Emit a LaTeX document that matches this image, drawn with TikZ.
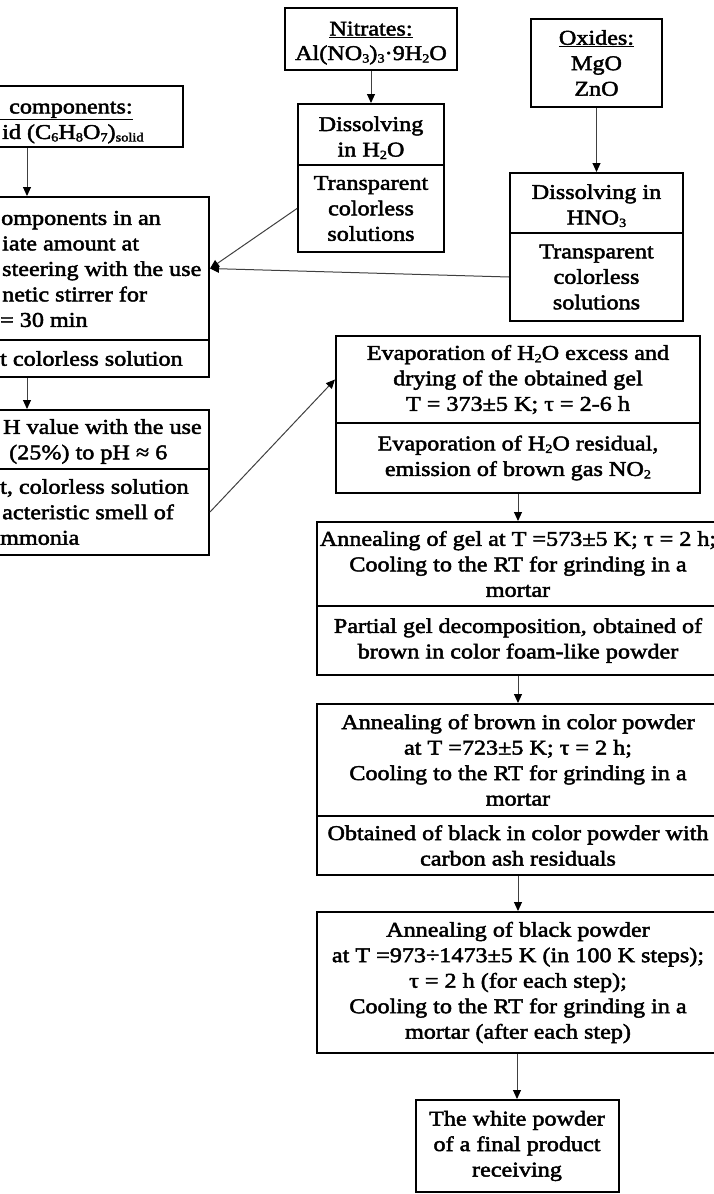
\documentclass[tikz,border=0pt]{standalone}
\usepackage{fontspec}
\setmainfont{Liberation Serif}[FakeStretch=1.15,FakeBold=2.2]
\usetikzlibrary{arrows.meta,calc}
\newcommand\sbs[1]{\raisebox{-2.5pt}{\fontsize{12.5}{12.5}\selectfont #1}}
\tikzset{
  txtfont/.style={font=\fontsize{21}{25.5}\selectfont},
  box/.style={draw=black, line width=2pt, align=center, inner sep=0pt, txtfont},
  cutbox/.style={draw=black, line width=2pt, inner sep=0pt},
  lefttxt/.style={align=left, inner sep=0pt, anchor=west, txtfont},
  arr/.style={draw=black!75, line width=1pt, -{Triangle[length=9pt,width=8pt,fill=black,color=black]}},
}
\begin{document}
\begin{tikzpicture}[x=1pt,y=-1pt]
\useasboundingbox (0,0) rectangle (714,1194);
\clip (0,0) rectangle (714,1194);
\fill[white] (0,0) rectangle (714,1194);

% top sources
\node[box, minimum width=172pt, minimum height=62pt] (nit) at (371,39)
  {\rule{0pt}{22pt}\underline{Nitrates:}\\[-1pt]Al(NO\sbs{3})\sbs{3}·9H\sbs{2}O};
\node[box, minimum width=131pt, minimum height=88pt] (ox) at (596.5,63)
  {\underline{Oxides:}\\MgO\\ZnO};

\node[box, minimum width=146pt, minimum height=61pt] (h2oa) at (371,134.5)
  {\rule{0pt}{21pt}Dissolving\\in H\sbs{2}O};
\node[box, minimum width=146pt, minimum height=87pt] (h2ob) at (371,208.5)
  {Transparent\\colorless\\solutions};
\node[box, minimum width=173pt, minimum height=60pt] (hnoa) at (596.5,203)
  {\rule{0pt}{20pt}Dissolving in\\HNO\sbs{3}};
\node[box, minimum width=173pt, minimum height=88pt] (hnob) at (596.5,277)
  {Transparent\\colorless\\solutions};

% left column (cut at the left edge)
\node[cutbox, minimum width=243pt, minimum height=61pt] (ltop) at (61.5,116.5) {};
\node[lefttxt] (ltopt) at (0,122.5)
  {\underline{\hspace*{9pt}components:}\\\hspace*{2pt}id (C\sbs{6}H\sbs{8}O\sbs{7})\sbs{solid}};

\node[cutbox, minimum width=269pt, minimum height=143pt] (biga) at (74.5,268.5) {};
\node[lefttxt] (bigat) at (0,269)
  {\hspace*{1pt}omponents in an\\\hspace*{2pt}iate amount at\\\hspace*{2pt}steering with the use\\\hspace*{2pt}netic stirrer for\\= 30 min};
\node[cutbox, minimum width=269pt, minimum height=37pt] (bigb) at (74.5,358.5) {};
\node[lefttxt] (bigbt) at (0,358.5) {t colorless solution};

\node[cutbox, minimum width=269pt, minimum height=59pt] (pha) at (74.5,439.5) {};
\node[lefttxt] (phat) at (0,441.5)
  {\hspace*{3pt}H value with the use\\\hspace*{9pt}(25\%) to pH ≈ 6};
\node[cutbox, minimum width=269pt, minimum height=86pt] (phb) at (74.5,512) {};
\node[lefttxt] (phbt) at (0,512)
  {t, colorless solution\\\hspace*{2pt}acteristic smell of\\mmonia};

% right column
\node[box, minimum width=364pt, minimum height=87pt] (evapa) at (518,379.5)
  {Evaporation of H\sbs{2}O excess and\\drying of the obtained gel\\T = 373±5 K; τ = 2-6 h};
\node[box, minimum width=364pt, minimum height=70pt] (evapb) at (518,458)
  {Evaporation of H\sbs{2}O residual,\\emission of brown gas NO\sbs{2}};

\node[box, minimum width=402pt, minimum height=84pt] (gela) at (518,564)
  {Annealing of gel at T =573±5 K; τ = 2 h;\\Cooling to the RT for grinding in a\\mortar};
\node[box, minimum width=402pt, minimum height=69pt] (gelb) at (518,640.5)
  {Partial gel decomposition, obtained of\\brown in color foam-like powder};

\node[box, minimum width=402pt, minimum height=112pt] (brna) at (518,760)
  {Annealing of brown in color powder\\at T =723±5 K; τ = 2 h;\\Cooling to the RT for grinding in a\\mortar};
\node[box, minimum width=402pt, minimum height=59pt] (brnb) at (518,845.5)
  {Obtained of black in color powder with\\carbon ash residuals};

\node[box, minimum width=402pt, minimum height=141pt] (blk) at (518,982.5)
  {Annealing of black powder\\at T =973÷1473±5 K (in 100 K steps);\\τ = 2 h (for each step);\\Cooling to the RT for grinding in a\\mortar (after each step)};

\node[box, minimum width=203pt, minimum height=92pt] (fin) at (517,1146)
  {The white powder\\of a final product\\receiving};

% connectors
\coordinate (ax) at (27,0);
\draw[arr] (nit.south) -- (h2oa.north);
\draw[arr] (ox.south) -- (hnoa.north);
\draw[arr] (ltop.south -| ax) -- (biga.north -| ax);
\draw[arr] (bigb.south -| ax) -- (pha.north -| ax);
\draw[arr] (h2ob.west) -- (biga.east);
\draw[arr] (hnob.west) -- (biga.east);
\draw[arr] (phb.east) -- (evapa.west);
\draw[arr] (evapb.south) -- (gela.north);
\draw[arr] (gelb.south) -- (brna.north);
\draw[arr] (brnb.south) -- (blk.north);
\draw[arr] (blk.south -| fin.north) -- (fin.north);
\end{tikzpicture}
\end{document}
